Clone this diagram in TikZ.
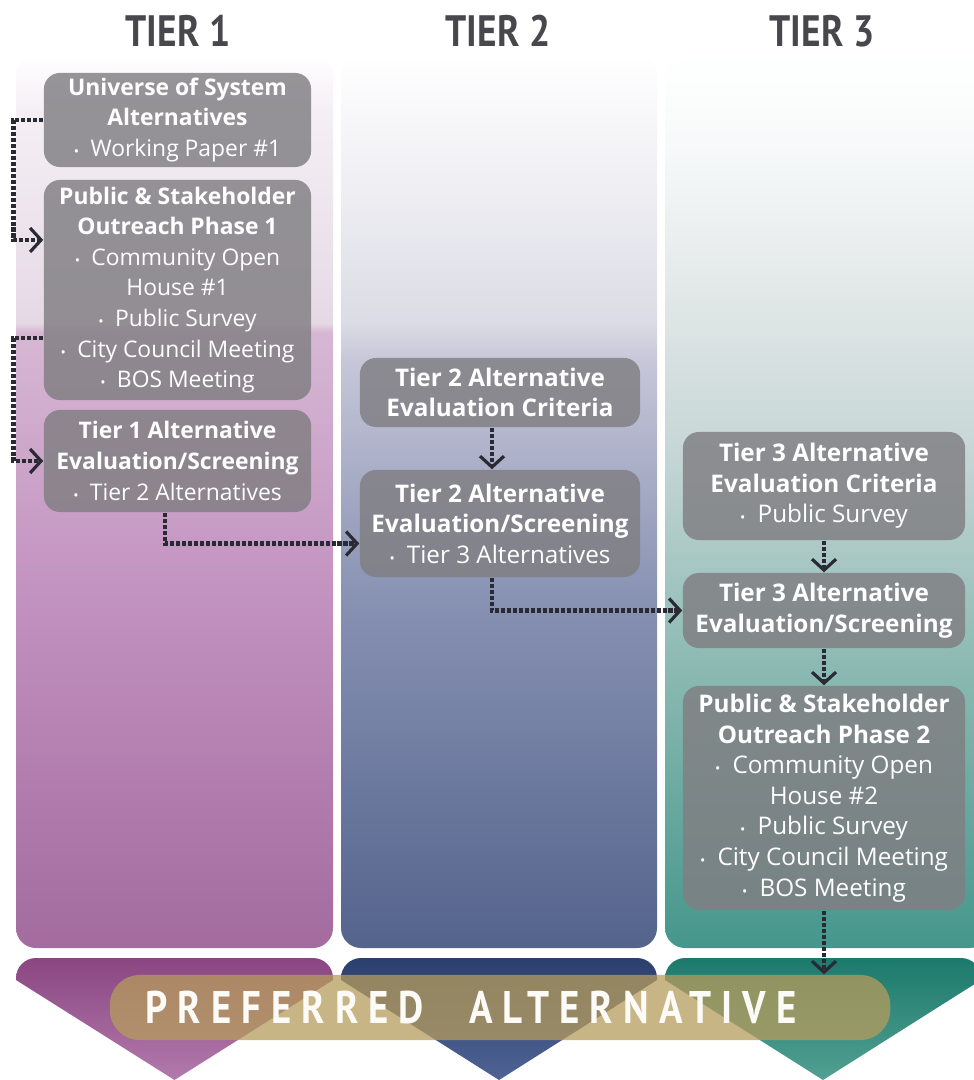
\documentclass[tikz,border=0pt]{standalone}
\usepackage{fontspec}
\setmainfont{Open Sans}
\newfontfamily\tierfont[FakeStretch=0.85]{PT Sans}
\newfontfamily\prefont[FakeStretch=0.85,LetterSpace=22]{PT Sans}
\usetikzlibrary{arrows.meta,positioning}

\definecolor{boxgray}{RGB}{128,126,130}
\definecolor{flowgray}{RGB}{42,42,52}
\definecolor{titlegray}{RGB}{72,72,76}
\definecolor{bannertan}{RGB}{182,156,92}
\definecolor{plumtop}{RGB}{138,70,130}
\definecolor{plumbot}{RGB}{178,122,172}
\definecolor{navytop}{RGB}{44,64,110}
\definecolor{navybot}{RGB}{78,98,148}
\definecolor{tealtop}{RGB}{28,122,108}
\definecolor{tealbot}{RGB}{82,160,146}

% column fades, white at the top
\pgfdeclareverticalshading{tierone}{100bp}{rgb(0bp)=(0.64,0.42,0.62); rgb(25bp)=(0.64,0.42,0.62);
  rgb(44.5bp)=(0.76,0.57,0.75); rgb(59.5bp)=(0.84,0.72,0.83); rgb(60bp)=(0.90,0.85,0.90);
  rgb(72bp)=(0.96,0.94,0.96); rgb(75bp)=(1,1,1); rgb(100bp)=(1,1,1)}
\pgfdeclareverticalshading{tiertwo}{100bp}{rgb(0bp)=(0.33,0.39,0.55); rgb(25bp)=(0.33,0.39,0.55);
  rgb(44.5bp)=(0.53,0.57,0.70); rgb(58bp)=(0.78,0.78,0.85); rgb(60bp)=(0.86,0.86,0.90);
  rgb(67bp)=(0.93,0.93,0.95); rgb(75bp)=(1,1,1); rgb(100bp)=(1,1,1)}
\pgfdeclareverticalshading{tierthree}{100bp}{rgb(0bp)=(0.27,0.59,0.55); rgb(25bp)=(0.27,0.59,0.55);
  rgb(41bp)=(0.55,0.73,0.70); rgb(53bp)=(0.78,0.84,0.84); rgb(62bp)=(0.89,0.91,0.91);
  rgb(70bp)=(0.97,0.98,0.98); rgb(75bp)=(1,1,1); rgb(100bp)=(1,1,1)}

\newcommand{\boxfont}{\fontsize{6.5}{8.7}\selectfont}
\newcommand{\bul}{{\fontsize{4}{4}\selectfont\textbullet}\hspace{0.5em}}

\begin{document}
\begin{tikzpicture}[x=0.01cm, y=-0.01cm,
  stage/.style={fill=boxgray, fill opacity=0.82, text opacity=1, text=white, rounded corners=1.6mm,
    align=center, inner sep=0pt, font=\boxfont},
  widestage/.style={stage, font=\fontsize{6.9}{8.7}\selectfont},
  tier/.style={text=titlegray, font=\tierfont\fontsize{12.5}{14}\selectfont\bfseries},
  banner/.style={fill=bannertan, fill opacity=0.75, text opacity=1, text=white!96!bannertan,
    rounded corners=3mm, minimum width=7.8cm, minimum height=0.65cm, font=\prefont\fontsize{13}{14}\selectfont\bfseries},
  flow/.style={draw=flowgray, line width=1.3pt, dash pattern=on 1.2pt off 0.5pt,
    -{Straight Barb[length=1.1mm, width=2.4mm, line width=0.9pt]}}]
\useasboundingbox (0,0) rectangle (974,1080);

% Columns
\shade[shading=tierone, rounded corners=2mm] (16,55) rectangle (333,948);
\shade[shading=tiertwo, rounded corners=2mm] (341,55) rectangle (657,948);
\shade[shading=tierthree, rounded corners=2mm] (665,55) rectangle (990,948);

% Arrow heads at the bottom
\shade[top color=plumtop, bottom color=plumbot] (16,980) [rounded corners=2mm] -- (16,958) -- (333,958) [sharp corners] -- (333,980) -- (174.5,1080) -- cycle;
\shade[top color=navytop, bottom color=navybot] (341,980) [rounded corners=2mm] -- (341,958) -- (657,958) [sharp corners] -- (657,980) -- (499,1080) -- cycle;
\shade[top color=tealtop, bottom color=tealbot] (665,980) [rounded corners=2mm] -- (665,958) -- (981,958) [sharp corners] -- (981,980) -- (823,1080) -- cycle;

% Titles
\node[tier] (t1) at (178,31) {TIER 1};
\node[tier] (t2) at (498,31) {TIER 2};
\node[tier] (t3) at (822,31) {TIER 3};

% Tier 1
\node[stage, minimum width=2.67cm, minimum height=0.94cm] (univ) at (177.5,120)
  {\textbf{Universe of System}\\\textbf{Alternatives}\\\bul Working Paper \#1};
\node[stage, minimum width=2.67cm, minimum height=2.2cm] (outr1) at (177.5,290)
  {\textbf{Public \& Stakeholder}\\\textbf{Outreach Phase 1}\\\bul Community Open\\House \#1\\\bul Public Survey\\\bul City Council Meeting\\\bul BOS Meeting};
\node[stage, minimum width=2.67cm, minimum height=1.02cm] (scr1) at (177.5,461)
  {\textbf{Tier 1 Alternative}\\\textbf{Evaluation/Screening}\\\bul Tier 2 Alternatives};

% Tier 2
\node[widestage, minimum width=2.8cm, minimum height=0.69cm] (crit2) at (500,392.5)
  {\textbf{Tier 2 Alternative}\\\textbf{Evaluation Criteria}};
\node[widestage, minimum width=2.8cm, minimum height=1.07cm] (scr2) at (500,523.5)
  {\textbf{Tier 2 Alternative}\\\textbf{Evaluation/Screening}\\\bul Tier 3 Alternatives};

% Tier 3
\node[widestage, minimum width=2.82cm, minimum height=1.08cm] (crit3) at (824,486)
  {\textbf{Tier 3 Alternative}\\\textbf{Evaluation Criteria}\\\bul Public Survey};
\node[widestage, minimum width=2.82cm, minimum height=0.75cm] (scr3) at (824,610.5)
  {\textbf{Tier 3 Alternative}\\\textbf{Evaluation/Screening}};
\node[widestage, minimum width=2.82cm, minimum height=2.24cm] (outr2) at (824,798)
  {\textbf{Public \& Stakeholder}\\\textbf{Outreach Phase 2}\\\bul Community Open\\House \#2\\\bul Public Survey\\\bul City Council Meeting\\\bul BOS Meeting};

% Preferred alternative
\node[banner] (pref) at (500,1007.5) {PREFERRED\hspace{4.5mm}ALTERNATIVE\rule{5.8mm}{0pt}};
\coordinate (prefin) at (outr2.south |- pref.north);

% Connectors
\draw[flow] (univ.west) -- ++(-30,0) |- ([yshift=5mm]outr1.west);
\draw[flow] ([yshift=-4.8mm]outr1.west) -- ++(-30,0) |- (scr1.west);
\draw[flow] ([xshift=-1.25mm]scr1.south) |- ([yshift=-2mm]scr2.west);
\draw[flow] ([xshift=-0.8mm]crit2.south) -- ([xshift=-0.8mm]scr2.north);
\draw[flow] ([xshift=-0.8mm]scr2.south) |- (scr3.west);
\draw[flow] (crit3) -- (scr3);
\draw[flow] (scr3) -- (outr2);
\draw[flow] (outr2) -- (prefin);
\end{tikzpicture}
\end{document}
